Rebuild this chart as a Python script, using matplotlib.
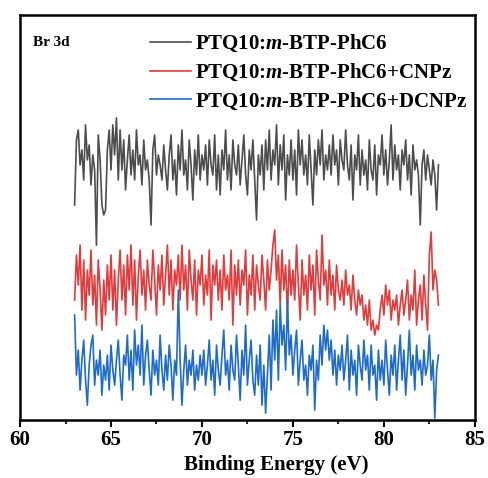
import numpy as np
import matplotlib
matplotlib.use("Agg")
import matplotlib.pyplot as plt
from matplotlib.ticker import MultipleLocator

plt.rcParams['font.family'] = 'Liberation Serif'
plt.rcParams['font.weight'] = 'bold'
plt.rcParams['mathtext.fontset'] = 'custom'
plt.rcParams['mathtext.rm'] = 'Liberation Serif:bold'
plt.rcParams['mathtext.it'] = 'Liberation Serif:italic:bold'

# binding energy grid, 63.0 ... 83.0 eV
energy = np.round(np.arange(63.0, 83.05, 0.1), 1)

# intensities (offset, arbitrary units)
gray = [215, 280, 290, 255, 270, 240, 295, 260, 275, 235,
        265, 250, 175, 285, 260, 215, 205, 210, 270, 290,
        250, 295, 265, 302, 240, 290, 250, 280, 230, 260,
        285, 245, 270, 240, 290, 255, 265, 235, 280, 250,
        260, 240, 195, 270, 285, 245, 265, 255, 240, 275,
        250, 230, 265, 285, 240, 260, 225, 275, 250, 290,
        245, 260, 230, 280, 255, 220, 270, 245, 285, 240,
        265, 250, 275, 235, 280, 255, 245, 285, 230, 265,
        225, 270, 250, 290, 240, 265, 230, 280, 255, 245,
        275, 235, 260, 285, 245, 225, 270, 250, 280, 240,
        200, 265, 245, 275, 230, 280, 250, 290, 240, 270,
        255, 295, 235, 275, 250, 285, 220, 265, 245, 280,
        240, 270, 225, 290, 255, 280, 245, 265, 235, 285,
        250, 215, 270, 245, 280, 255, 290, 240, 265, 250,
        275, 245, 285, 255, 270, 235, 280, 260, 250, 290,
        255, 240, 275, 220, 265, 250, 285, 235, 270, 245,
        260, 230, 280, 250, 240, 275, 225, 265, 255, 285,
        245, 270, 235, 260, 295, 240, 275, 250, 265, 230,
        270, 255, 280, 240, 265, 225, 275, 250, 260, 245,
        195, 255, 270, 240, 265, 250, 235, 260, 245, 210,
        255]

red = [120, 165, 135, 175, 110, 160, 100, 150, 125, 170,
       115, 145, 95, 160, 130, 90, 140, 105, 155, 120,
       165, 110, 150, 95, 140, 170, 120, 155, 105, 165,
       130, 175, 115, 160, 100, 145, 170, 125, 150, 110,
       160, 135, 120, 170, 140, 105, 155, 130, 165, 115,
       145, 175, 125, 160, 110, 150, 135, 165, 120, 175,
       130, 155, 110, 170, 140, 120, 160, 105, 150, 135,
       165, 115, 145, 125, 170, 100, 155, 135, 160, 120,
       150, 110, 165, 130, 145, 120, 170, 95, 155, 125,
       160, 115, 150, 135, 170, 105, 145, 125, 165, 110,
       155, 135, 120, 165, 140, 110, 160, 130, 150, 175,
       190, 140, 165, 115, 170, 130, 155, 105, 160, 125,
       150, 120, 175, 135, 100, 160, 125, 145, 110, 165,
       130, 155, 105, 170, 140, 120, 185, 135, 150, 115,
       160, 125, 145, 110, 155, 130, 120, 140, 115, 150,
       125, 135, 110, 145, 120, 105, 130, 115, 125, 100,
       115, 95, 120, 90, 100, 85, 95, 90, 110, 125,
       105, 135, 115, 130, 100, 120, 110, 125, 95, 115,
       130, 105, 120, 140, 100, 125, 110, 150, 95, 120,
       135, 100, 145, 115, 90, 165, 188, 130, 150, 140,
       115]

blue = [105, 45, 70, 30, 60, 80, 40, 15, 55, 75,
        85, 35, 60, 45, 70, 25, 55, 40, 65, 30,
        75, 50, 35, 60, 80, 45, 20, 65, 55, 85,
        40, 70, 30, 90, 55, 75, 45, 95, 35, 65,
        80, 50, 25, 70, 45, 60, 35, 85, 50, 30,
        65, 40, 75, 55, 20, 60, 45, 130, 60, 15,
        50, 75, 35, 60, 45, 70, 30, 55, 40, 65,
        45, 70, 35, 55, 80, 40, 60, 25, 75, 50,
        35, 65, 90, 45, 60, 30, 75, 50, 40, 85,
        55, 20, 70, 45, 95, 35, 60, 80, 40, 25,
        65, 35, 75, 15, 55, 7, 45, 85, 30, 100,
        60, 110, 40, 115, 75, 95, 50, 120, 65, 85,
        45, 70, 90, 35, 60, 80, 40, 55, 25, 65,
        50, 75, 10, 60, 40, 85, 55, 95, 70, 90,
        60, 80, 45, 70, 35, 65, 50, 75, 40, 60,
        85, 30, 70, 45, 60, 25, 75, 55, 40, 80,
        50, 65, 30, 75, 45, 55, 20, 70, 40, 60,
        35, 80, 50, 25, 65, 45, 75, 30, 60, 85,
        40, 70, 25, 55, 90, 45, 65, 30, 75, 50,
        60, 35, 70, 45, 55, 85, 40, 60, 2, 50,
        65]

labels = ['PTQ10:$m$-BTP-PhC6',
          'PTQ10:$m$-BTP-PhC6+CNPz',
          'PTQ10:$m$-BTP-PhC6+DCNPz']
colors = ['#4d4d4d', '#e23b3b', '#1e6bc9']

fig = plt.figure(figsize=(4.89, 4.78), dpi=100)
ax = fig.add_axes([0.041, 0.121, 0.930, 0.848])

for y, lab, c in zip([gray, red, blue], labels, colors):
    ax.plot(energy, y, color=c, lw=1.2, label=lab)

ax.set_xlim(60, 85)
ax.set_ylim(0, 405)
ax.xaxis.set_major_locator(MultipleLocator(5))
ax.xaxis.set_minor_locator(MultipleLocator(2.5))
ax.set_yticks([])
ax.tick_params(axis='x', which='major', direction='out', length=5, width=1.5,
               labelsize=15, pad=2)
ax.tick_params(axis='x', which='minor', direction='out', length=3, width=1.2)
for sp in ax.spines.values():
    sp.set_linewidth(1.8)
ax.set_xlabel('Binding Energy (eV)', fontsize=15, fontweight='bold')
ax.xaxis.set_label_coords(0.563, -0.085)

ax.text(0.028, 0.948, 'Br 3d', transform=ax.transAxes, fontsize=11,
        fontweight='bold', va='top', ha='left')

ax.legend(loc='upper left', bbox_to_anchor=(0.285, 0.955), frameon=False,
          fontsize=15, handlelength=2.0, handletextpad=0.2, labelspacing=0.36,
          borderpad=0, borderaxespad=0)

fig.savefig('out.png', dpi=100)
